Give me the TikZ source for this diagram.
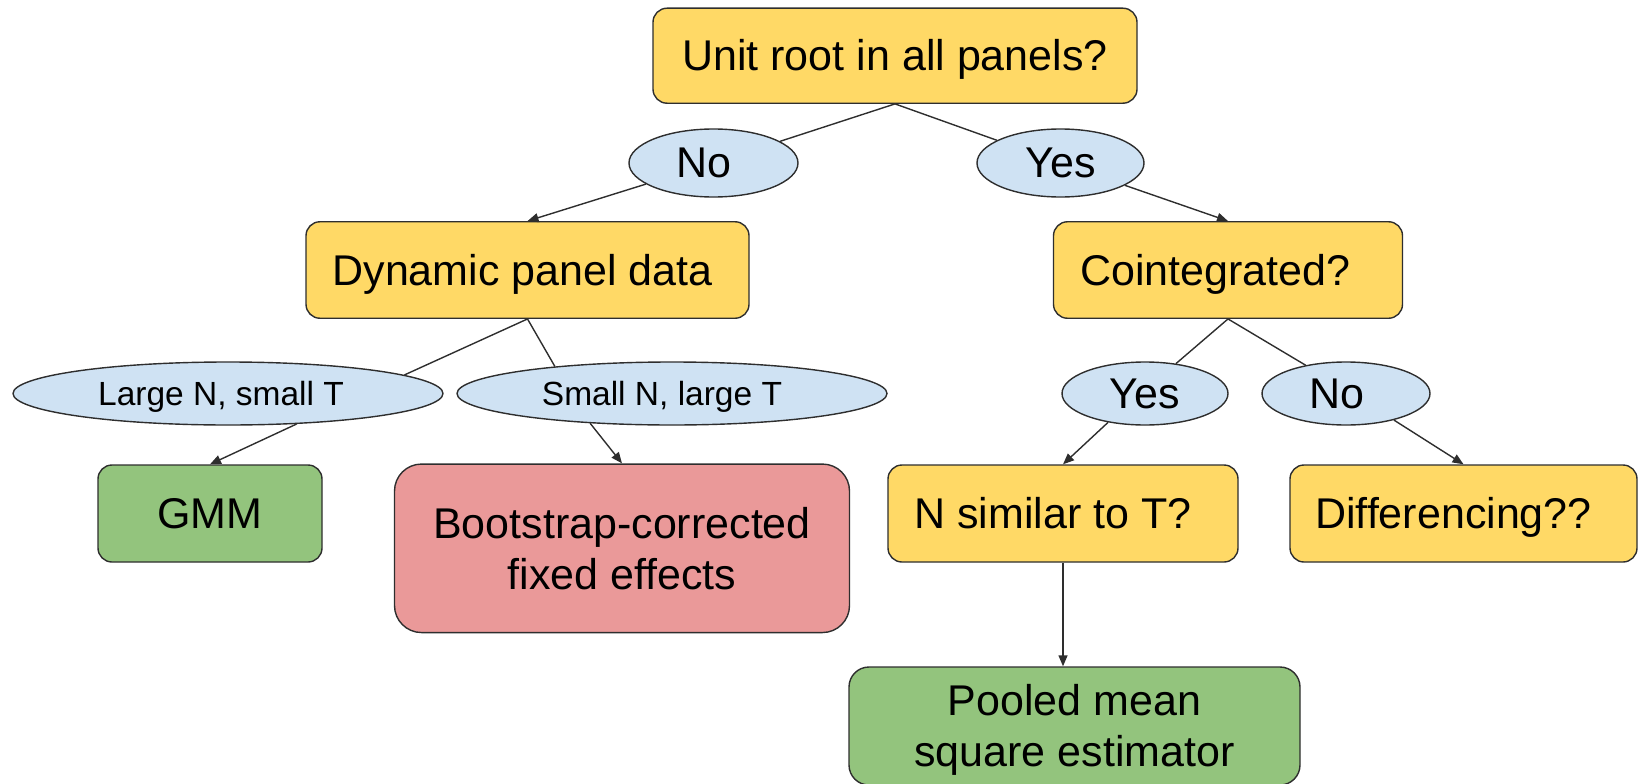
\documentclass[tikz,border=0pt]{standalone}
\usepackage{fontspec}
\setmainfont{Liberation Sans}
\usetikzlibrary{shapes.geometric,arrows.meta}
\definecolor{ybox}{HTML}{FFD966}
\definecolor{bell}{HTML}{CFE2F3}
\definecolor{gbox}{HTML}{93C47D}
\definecolor{rbox}{HTML}{EA9999}
\definecolor{edgec}{HTML}{2E2E2E}
\begin{document}
\begin{tikzpicture}[x=1pt,y=-1pt,
  box/.style={draw=edgec, line width=1.4pt, rounded corners=14pt, inner sep=0pt,
    font=\fontsize{43}{51}\selectfont, text height=40.5pt, text depth=10pt},
  ybx/.style={box, fill=ybox},
  gbx/.style={box, fill=gbox},
  rbx/.style={box, fill=rbox},
  twoline/.style={align=center, text height=91.5pt, text depth=10pt},
  lbl/.style={ellipse, draw=edgec, line width=1.4pt, fill=bell, inner sep=0pt,
    font=\fontsize{43}{51}\selectfont},
  slbl/.style={lbl, font=\fontsize{33.5}{40}\selectfont, text height=31pt, text depth=7pt},
  conn/.style={draw=edgec, line width=1.4pt},
  arr/.style={conn, -{Triangle[length=11pt,width=9pt]}},
]
\useasboundingbox (0,0) rectangle (1638,784);

\node[ybx, minimum width=484pt, minimum height=95pt] (root) at (895,55.7) {Unit root in all panels?};
\node[lbl, minimum width=169pt, minimum height=68pt] (no1) at (713.5,163) {No\hspace*{20pt}};
\node[lbl, minimum width=167pt, minimum height=68pt] (yes1) at (1060.5,163) {Yes};
\node[ybx, minimum width=443pt, minimum height=96.5pt] (dyn) at (527.5,270) {Dynamic panel data\hspace*{10pt}};
\node[ybx, minimum width=349pt, minimum height=96.5pt] (coint) at (1228,270) {Cointegrated?\hspace*{25pt}};
\node[slbl, minimum width=430pt, minimum height=63pt] (large) at (228,393.5) {Large N, small T\hspace*{14pt}};
\node[slbl, minimum width=430pt, minimum height=63pt] (small) at (672,393.5) {Small N, large T\hspace*{20pt}};
\node[lbl, minimum width=166pt, minimum height=63pt] (yes2) at (1145,393.5) {Yes};
\node[lbl, minimum width=168pt, minimum height=63pt] (no2) at (1346,393.5) {No\hspace*{19pt}};
\node[gbx, minimum width=224pt, minimum height=97pt] (gmm) at (210,513.5) {GMM};
\node[rbx, twoline, minimum width=455pt, minimum height=168.5pt, rounded corners=27pt] (boot) at (622,548.3) {Bootstrap-corrected\\fixed effects};
\node[ybx, minimum width=350pt, minimum height=97pt] (nsim) at (1063,513.5) {N similar to T?\hspace*{20pt}};
\node[ybx, minimum width=347pt, minimum height=97pt] (diff) at (1463.5,513.5) {Differencing??\hspace*{20pt}};
\node[gbx, twoline, minimum width=451pt, minimum height=118pt, rounded corners=20pt] (pool) at (1074.5,726) {Pooled mean\\square estimator};

\draw[conn] (root.south) -- (no1);
\draw[arr] (no1) -- (dyn.north);
\draw[conn] (root.south) -- (yes1);
\draw[arr] (yes1) -- (coint.north);
\draw[conn] (dyn.south) -- (large.6);
\draw[arr] (large.336) -- (gmm.north);
\draw[conn] (dyn.south) -- (small.167);
\draw[arr] (small.200) -- (boot.north);
\draw[conn] (coint.south) -- (yes2.44);
\draw[arr] (yes2.218) -- (nsim.north);
\draw[conn] (coint.south) -- (no2.145);
\draw[arr] (no2.331) -- (diff.north);
\draw[arr] (nsim.south) -- (nsim.south |- pool.north);
\end{tikzpicture}
\end{document}
